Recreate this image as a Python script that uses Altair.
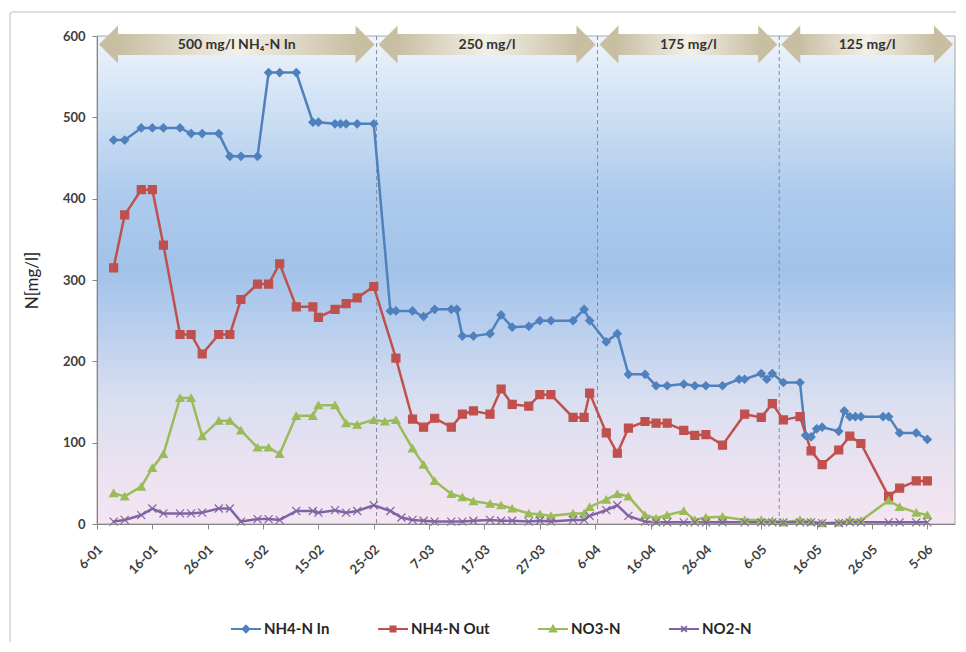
import altair as alt
import pandas as pd

YEAR = 2011

series_names = ["NH4-N In", "NH4-N Out", "NO3-N", "NO2-N"]
series_colors = ["#4F81BD", "#C0504D", "#9BBB59", "#8064A2"]

in_dates = ["9-01", "11-01", "14-01", "16-01", "18-01", "21-01", "23-01", "25-01", "28-01", "30-01",
            "1-02", "4-02", "6-02", "8-02", "11-02", "14-02", "15-02", "18-02", "19-02", "20-02", "22-02", "25-02", "28-02",
            "1-03", "4-03", "6-03", "8-03", "11-03", "12-03", "13-03", "15-03", "18-03", "20-03", "22-03", "25-03", "27-03", "29-03",
            "2-04", "4-04", "5-04", "8-04", "10-04", "12-04", "15-04", "17-04", "19-04", "22-04", "24-04", "26-04", "29-04",
            "2-05", "3-05", "6-05", "7-05", "8-05", "10-05", "13-05", "14-05", "15-05", "16-05", "17-05", "20-05", "21-05",
            "22-05", "23-05", "24-05", "28-05", "29-05", "31-05",
            "3-06", "5-06"]
in_values = [472, 472, 487, 487, 487, 487, 480, 480, 480, 452,
             452, 452, 555, 555, 555, 494, 494, 492, 492, 492, 492, 492, 262,
             262, 262, 255, 264, 264, 264, 231, 231, 234, 257, 242, 243, 250, 250,
             250, 264, 250, 224, 234, 184, 184, 170, 170, 172, 170, 170, 170,
             178, 178, 185, 178, 185, 174, 174, 109, 107, 117, 119, 114, 139,
             132, 132, 132, 132, 132, 112,
             112, 104]

out_dates = ["9-01", "11-01", "14-01", "16-01", "18-01", "21-01", "23-01", "25-01", "28-01", "30-01",
             "1-02", "4-02", "6-02", "8-02", "11-02", "14-02", "15-02", "18-02", "20-02", "22-02", "25-02",
             "1-03", "4-03", "6-03", "8-03", "11-03", "13-03", "15-03", "18-03", "20-03", "22-03", "25-03", "27-03", "29-03",
             "2-04", "4-04", "5-04", "8-04", "10-04", "12-04", "15-04", "17-04", "19-04", "22-04", "24-04", "26-04", "29-04",
             "3-05", "6-05", "8-05", "10-05", "13-05", "15-05", "17-05", "20-05", "22-05", "24-05", "29-05", "31-05",
             "3-06", "5-06"]
out_values = [315, 380, 411, 411, 343, 233, 233, 209, 233, 233,
              276, 295, 295, 320, 267, 267, 254, 264, 271, 278, 292,
              204, 129, 119, 130, 119, 135, 139, 135, 166, 147, 145, 159, 159,
              131, 131, 161, 112, 87, 118, 126, 124, 124, 115, 109, 110, 97,
              135, 131, 148, 128, 132, 90, 73, 91, 108, 99, 34, 44,
              53, 53]

no3_dates = ["9-01", "11-01", "14-01", "16-01", "18-01", "21-01", "23-01", "25-01", "28-01", "30-01",
             "1-02", "4-02", "6-02", "8-02", "11-02", "14-02", "15-02", "18-02", "20-02", "22-02", "25-02", "27-02",
             "1-03", "4-03", "6-03", "8-03", "11-03", "13-03", "15-03", "18-03", "20-03", "22-03", "25-03", "27-03", "29-03",
             "2-04", "4-04", "5-04", "8-04", "10-04", "12-04", "15-04", "17-04", "19-04", "22-04", "24-04", "26-04", "29-04",
             "3-05", "6-05", "8-05", "10-05", "13-05", "15-05", "17-05", "20-05", "22-05", "24-05", "29-05", "31-05",
             "3-06", "5-06"]
no3_values = [38, 34, 46, 69, 86, 155, 155, 108, 127, 127,
              115, 94, 94, 86, 133, 133, 146, 146, 124, 122, 128, 126,
              128, 93, 73, 53, 37, 33, 28, 25, 23, 19, 13, 12, 10,
              13, 13, 21, 30, 37, 34, 11, 7, 11, 16, 5, 8, 9,
              5, 5, 4, 2, 5, 3, 1, 2, 5, 4, 29, 21,
              14, 11]

no2_dates = ["9-01", "11-01", "14-01", "16-01", "18-01", "21-01", "23-01", "25-01", "28-01", "30-01",
             "1-02", "4-02", "6-02", "8-02", "11-02", "14-02", "15-02", "18-02", "20-02", "22-02", "25-02", "28-02",
             "2-03", "4-03", "6-03", "8-03", "11-03", "13-03", "15-03", "18-03", "20-03", "22-03", "25-03", "27-03", "29-03",
             "2-04", "4-04", "5-04", "8-04", "10-04", "12-04", "15-04", "17-04", "19-04", "22-04", "24-04", "26-04", "29-04",
             "3-05", "6-05", "8-05", "10-05", "13-05", "15-05", "17-05", "20-05", "22-05", "24-05", "29-05", "31-05",
             "3-06", "5-06"]
no2_values = [3, 5, 11, 19, 13, 13, 13, 14, 19, 19,
              3, 6, 6, 5, 16, 16, 14, 17, 14, 16, 23, 16,
              8, 5, 4, 3, 3, 3, 4, 5, 4, 4, 3, 4, 3,
              5, 5, 10, 17, 23, 10, 3, 2, 2, 2, 2, 2, 2,
              2, 2, 2, 2, 2, 2, 1, 1, 2, 2, 2, 2,
              2, 2]

tick_labels = ["6-01", "16-01", "26-01", "5-02", "15-02", "25-02", "7-03", "17-03",
               "27-03", "6-04", "16-04", "26-04", "6-05", "16-05", "26-05", "5-06"]
y_ticks = [0, 100, 200, 300, 400, 500, 600]

phase_labels = ["500 mg/l NH\u2084-N In", "250 mg/l", "175 mg/l", "125 mg/l"]
phase_changes = ["2011-02-25T12:00:00", "2011-04-06T10:00:00", "2011-05-09T06:00:00"]
period_start = "2011-01-06T00:00:00"
period_end = "2011-06-10T00:00:00"


def ts(dm):
    d, m = dm.split("-")
    return f"{YEAR}-{int(m):02d}-{int(d):02d}T00:00:00"


def dt(dm):
    d, m = dm.split("-")
    return alt.DateTime(year=YEAR, month=int(m), date=int(d))


rows = []
for name, ds, vs in zip(series_names,
                        [in_dates, out_dates, no3_dates, no2_dates],
                        [in_values, out_values, no3_values, no2_values]):
    for d, v in zip(ds, vs):
        rows.append({"series": name, "date": ts(d), "value": v})
df = pd.DataFrame(rows)

starts = [period_start] + phase_changes
ends = phase_changes + [period_end]
mids = [(pd.Timestamp(s) + (pd.Timestamp(e) - pd.Timestamp(s)) / 2).strftime("%Y-%m-%dT%H:%M:%S")
        for s, e in zip(starts, ends)]
arrows = pd.DataFrame({"label": phase_labels, "start": starts, "end": ends, "mid": mids})
rules = pd.DataFrame({"date": phase_changes})
one = pd.DataFrame({"a": [0]})

W, H = 858, 488
FONT = "Lato"

xscale = alt.Scale(domain=[alt.DateTime(year=2011, month=1, date=6),
                           alt.DateTime(year=2011, month=6, date=10)])
yscale = alt.Scale(domain=[0, 600], nice=False, zero=True)

x_axis = alt.Axis(values=[dt(t) for t in tick_labels], format="%-d-%m", labelAngle=-45,
                  labelAlign="right", labelBaseline="middle", labelPadding=18, labelOffset=3,
                  labelOverlap=False, labelFlush=False, labelBound=False,
                  labelFont=FONT, labelFontSize=13, labelFontWeight="bold", labelColor="#404040",
                  tickSize=5, tickColor="#868686", domainColor="#868686", grid=False, zindex=1)
y_axis = alt.Axis(values=y_ticks, labelFont=FONT, labelFontSize=13, labelFontWeight="bold",
                  labelColor="#404040", labelPadding=7, tickSize=5, tickColor="#868686",
                  domainColor="#868686", grid=False, zindex=1,
                  titleFont=FONT, titleFontSize=17, titleFontWeight="normal", titleColor="#262626",
                  titleAngle=270, titleX=-65, titleY=H / 2, titleAlign="center", titleBaseline="middle")


def xenc(field):
    return alt.X(field, type="temporal", scale=xscale, axis=x_axis, title=None)


yenc = alt.Y("value:Q", scale=yscale, axis=y_axis, title="N[mg/l]")

color_scale = alt.Scale(domain=series_names, range=series_colors)
marker_shapes = ["diamond", "square", "triangle-up", "M-1,-1L1,1M-1,1L1,-1"]
legend_shape_scale = alt.Scale(domain=series_names, range=[
    "M-1,0H1M0,-0.22L0.22,0L0,0.22L-0.22,0Z",
    "M-1,0H1M-0.17,-0.17H0.17V0.17H-0.17Z",
    "M-1,0H1M0,-0.21L0.21,0.17H-0.21Z",
    "M-1,0H1M-0.19,-0.19L0.19,0.19M-0.19,0.19L0.19,-0.19",
])

legend = alt.Legend(orient="none", legendX=133, legendY=577, direction="horizontal", title=None,
                    labelFont=FONT, labelFontSize=15, labelFontWeight="bold", labelColor="#262626",
                    symbolSize=900, columnPadding=44, labelOffset=2, symbolStrokeWidth=2,
                    symbolOpacity=1)

bg_grad = alt.Gradient(gradient="linear", x1=0, x2=0, y1=0, y2=1, stops=[
    alt.GradientStop(color="#eef4fb", offset=0.0),
    alt.GradientStop(color="#d3e3f5", offset=0.13),
    alt.GradientStop(color="#aecbed", offset=0.32),
    alt.GradientStop(color="#a2c2e9", offset=0.48),
    alt.GradientStop(color="#b9cfee", offset=0.60),
    alt.GradientStop(color="#dadff0", offset=0.75),
    alt.GradientStop(color="#ece2f0", offset=0.90),
    alt.GradientStop(color="#f4e6f3", offset=1.0),
])
arrow_grad = alt.Gradient(gradient="linear", x1=0, x2=1, y1=0, y2=0, stops=[
    alt.GradientStop(color="#c8bea2", offset=0.0),
    alt.GradientStop(color="#f3f0e8", offset=0.5),
    alt.GradientStop(color="#c8bea2", offset=1.0),
])
ARROW_COLOR = "#c8bea2"

frame = alt.Chart(one).mark_rect(fill="#ffffff", fillOpacity=0, stroke="#d4d4d4", strokeWidth=1.5,
                                 cornerRadius=3).encode(
    x=alt.value(-87), x2=alt.value(W + 40), y=alt.value(-24), y2=alt.value(H + 200))

background = alt.Chart(one).mark_rect(color=bg_grad, stroke="#a6a6a6", strokeWidth=1).encode(
    x=alt.value(0), x2=alt.value(W), y=alt.value(0), y2=alt.value(H))

rule_layer = alt.Chart(rules).mark_rule(color="#7f8ea5", strokeDash=[4, 3], strokeWidth=1).encode(
    x=xenc("date"))

line_layers = []
point_layers = []
for name, col, shp in zip(series_names, series_colors, marker_shapes):
    sub = alt.Chart(df).transform_filter(alt.datum.series == name)
    line_layers.append(sub.mark_line(strokeWidth=2.5, color=col).encode(x=xenc("date"), y=yenc))
    point_layers.append(
        sub.mark_point(shape=shp, filled=True, color=col, stroke=col, strokeWidth=1.2, size=64,
                       opacity=1).encode(x=xenc("date"), y=yenc)
    )

legend_layer = alt.Chart(df).mark_point(filled=False, opacity=0, size=10).encode(
    x=xenc("date"), y=yenc,
    color=alt.Color("series:N", scale=color_scale, legend=legend),
    fill=alt.Fill("series:N", scale=color_scale, legend=legend),
    shape=alt.Shape("series:N", scale=legend_shape_scale, legend=legend))

bodies = alt.Chart(arrows).mark_rect(color=arrow_grad, xOffset=20, x2Offset=-20).encode(
    x=xenc("start"), x2="end:T", y=alt.value(-2), y2=alt.value(19))

heads_left = alt.Chart(arrows).mark_point(shape="M0.5,-1L-0.5,0L0.5,1Z", size=1444, filled=True,
                                          color=ARROW_COLOR, opacity=1, xOffset=11.5).encode(
    x=xenc("start"), y=alt.value(8.5))

heads_right = alt.Chart(arrows).mark_point(shape="M-0.5,-1L0.5,0L-0.5,1Z", size=1444, filled=True,
                                           color=ARROW_COLOR, opacity=1, xOffset=-11.5).encode(
    x=xenc("end"), y=alt.value(8.5))

labels = alt.Chart(arrows).mark_text(font=FONT, fontSize=14, fontWeight="bold", color="#333333",
                                     align="center", baseline="middle").encode(
    x=xenc("mid"), y=alt.value(9), text="label:N")

chart = alt.layer(frame, background, rule_layer, *line_layers, *point_layers, legend_layer,
                  bodies, heads_left, heads_right, labels).properties(
    width=W, height=H,
    autosize=alt.AutoSizeParams(type="none"),
    padding={"left": 89, "top": 28, "right": 1, "bottom": 118},
    background="#ffffff",
).configure_view(stroke=None)

chart.save("out.html", embed_options={"renderer": "svg", "actions": False})
